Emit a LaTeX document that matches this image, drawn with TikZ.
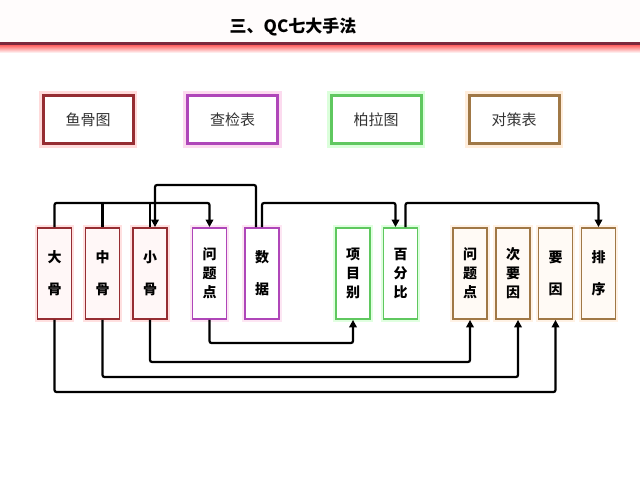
\documentclass[tikz,border=0pt]{standalone}
\usepackage{fontspec}
\newfontfamily\cjk{Noto Sans CJK SC}
\usetikzlibrary{arrows.meta,backgrounds}
\definecolor{cred}{RGB}{150,45,50}
\definecolor{cpur}{RGB}{175,70,185}
\definecolor{cgrn}{RGB}{95,200,95}
\definecolor{cbrn}{RGB}{160,120,70}
\definecolor{cline}{RGB}{125,40,60}
\tikzset{
  x=1pt, y=-1pt,
  topbox/.style={rectangle, minimum width=90pt, minimum height=48pt, line width=3pt, fill=white,
    font=\cjk\fontsize{15}{18}\selectfont, text=black!80},
  tall/.style={rectangle, minimum width=34pt, minimum height=91pt, line width=1.8pt,
    align=center, font=\cjk\bfseries\fontsize{14}{19}\selectfont, text=black, inner sep=0pt},
  rbox/.style={draw=cred, fill=red!3},
  pbox/.style={draw=cpur, fill=white},
  gbox/.style={draw=cgrn, fill=white},
  bbox/.style={draw=cbrn, fill=orange!4},
  conn/.style={draw=black, line width=2.2pt, rounded corners=2pt},
  arr/.style={conn, -{Triangle[length=7.5pt,width=7.5pt]}},
}
\newcommand{\glowbox}[3]{\draw[#2, line width=#3] (#1.north west) rectangle (#1.south east);}
\begin{document}
\begin{tikzpicture}
\useasboundingbox (0,0) rectangle (640,478);
% title band
\fill[red!1] (0,0) rectangle (640,42);
\fill[cline] (0,42) rectangle (640,46);
\shade[top color=red!40!pink, bottom color=white] (0,46) rectangle (640,53);
\node[font=\cjk\bfseries\fontsize{17}{20}\selectfont, text=black] (title) at (293,27) {三、QC七大手法};
% top boxes
\node[topbox, draw=cred] (yugu) at (88,119.5) {鱼骨图};
\node[topbox, draw=cpur] (chajian) at (232.5,119.5) {查检表};
\node[topbox, draw=cgrn] (bola) at (376,119.5) {柏拉图};
\node[topbox, draw=cbrn] (duice) at (514,119.5) {对策表};
% tall boxes
\node[tall, rbox] (da) at (54.5,273.5) {大\\[13pt]骨};
\node[tall, rbox] (zhong) at (102.5,273.5) {中\\[13pt]骨};
\node[tall, rbox] (xiao) at (150,273.5) {小\\[13pt]骨};
\node[tall, pbox] (wenti) at (209.5,273.5) {问\\题\\点};
\node[tall, pbox] (shuju) at (262,273.5) {数\\[13pt]据};
\node[tall, gbox] (xiangmu) at (353,273.5) {项\\目\\别};
\node[tall, gbox] (baifen) at (400.5,273.5) {百\\分\\比};
\node[tall, bbox] (wenti2) at (470,273.5) {问\\题\\点};
\node[tall, bbox] (ciyao) at (513,273.5) {次\\要\\因};
\node[tall, bbox] (yaoyin) at (555.5,273.5) {要\\[13pt]因};
\node[tall, bbox] (paixu) at (598.5,273.5) {排\\[13pt]序};
% glows
\begin{scope}[on background layer]
\fill[white] (0,53) rectangle (640,478);
\glowbox{yugu}{red!14}{5.5pt}
\glowbox{chajian}{magenta!14}{5.5pt}
\glowbox{bola}{green!14}{5.5pt}
\glowbox{duice}{orange!14}{5.5pt}
\foreach \n in {da,zhong,xiao}{\glowbox{\n}{red!12}{4pt}}
\foreach \n in {wenti,shuju}{\glowbox{\n}{magenta!10}{4pt}}
\foreach \n in {xiangmu,baifen}{\glowbox{\n}{green!12}{4pt}}
\foreach \n in {wenti2,ciyao,yaoyin,paixu}{\glowbox{\n}{orange!10}{4pt}}
\end{scope}
% level coordinates
\coordinate (yA) at (0,185);
\coordinate (yB) at (0,203);
\coordinate (y1) at (0,343);
\coordinate (y2) at (0,362);
\coordinate (y3) at (0,377);
\coordinate (y4) at (0,392);
% top connectors
\draw[conn] (zhong.north) -- (zhong.north |- yB);
\draw[conn] (xiao.north) -- (xiao.north |- yB);
\draw[arr] (da.north) |- (wenti.north |- yB) -- (wenti.north);
\draw[arr] ([xshift=-6pt]shuju.north) |- ([xshift=5pt]xiao.north |- yA) -- ([xshift=5pt]xiao.north);
\draw[arr] (shuju.north) |- ([xshift=-5pt]baifen.north |- yB) -- ([xshift=-5pt]baifen.north);
\draw[arr] ([xshift=5pt]baifen.north) |- (paixu.north |- yB) -- (paixu.north);
% bottom connectors
\draw[arr] (wenti.south) |- (xiangmu.south |- y1) -- (xiangmu.south);
\draw[arr] (xiao.south) |- (wenti2.south |- y2) -- (wenti2.south);
\draw[arr] (zhong.south) |- ([xshift=5pt]ciyao.south |- y3) -- ([xshift=5pt]ciyao.south);
\draw[arr] (da.south) |- (yaoyin.south |- y4) -- (yaoyin.south);
\end{tikzpicture}
\end{document}
